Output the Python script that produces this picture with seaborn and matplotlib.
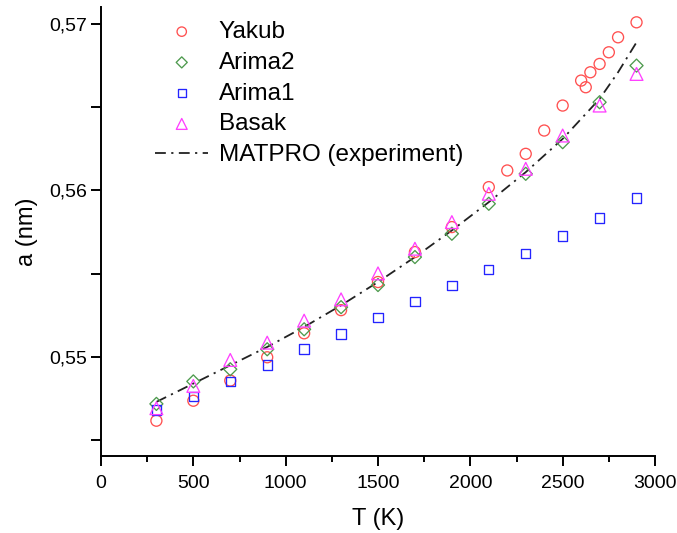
import numpy as np
import pandas as pd
import matplotlib
matplotlib.use("Agg")
import matplotlib.pyplot as plt
import matplotlib.ticker as mticker
import seaborn as sns

# ---- data ----
T_yakub = [300, 500, 700, 900, 1100, 1300, 1500, 1700, 1900, 2100, 2200, 2300, 2400, 2500,
           2600, 2625, 2650, 2700, 2750, 2800, 2900]
a_yakub = [0.54617, 0.54737, 0.54858, 0.54998, 0.55142, 0.55281, 0.5545, 0.5563, 0.5578,
           0.5602, 0.5612, 0.5622, 0.5636, 0.5651, 0.5666, 0.5662, 0.5671, 0.5676, 0.5683,
           0.5692, 0.5701]

T_arima2 = [300, 500, 700, 900, 1100, 1300, 1500, 1700, 1900, 2100, 2300, 2500, 2700, 2900]
a_arima2 = [0.54718, 0.54853, 0.54926, 0.55046, 0.55166, 0.55299, 0.55432, 0.5560, 0.5574,
            0.5592, 0.5610, 0.5629, 0.5653, 0.5675]

T_arima1 = [300, 500, 700, 900, 1100, 1300, 1500, 1700, 1900, 2100, 2300, 2500, 2700, 2900]
a_arima1 = [0.54682, 0.54762, 0.54852, 0.54952, 0.55048, 0.55138, 0.55236, 0.55332, 0.5543,
            0.55526, 0.55623, 0.55727, 0.55834, 0.55954]

T_basak = [300, 500, 700, 900, 1100, 1300, 1500, 1700, 1900, 2100, 2300, 2500, 2700, 2900]
a_basak = [0.54692, 0.54826, 0.54982, 0.55086, 0.55218, 0.55346, 0.55502, 0.5565, 0.5581,
           0.5598, 0.5613, 0.5633, 0.5651, 0.5670]

T_matpro = [300, 500, 700, 900, 1100, 1300, 1500, 1700, 1900, 2100, 2300, 2500, 2700, 2800, 2900]
a_matpro = [0.5473, 0.5484, 0.5495, 0.5506, 0.5518, 0.5531, 0.5545, 0.5560, 0.5576, 0.5593,
            0.5611, 0.5631, 0.5655, 0.5671, 0.5689]

x_ticks = [0, 500, 1000, 1500, 2000, 2500, 3000]
y_ticks = [0.55, 0.56, 0.57]
y_ticklabels = ["0,55", "0,56", "0,57"]

# ---- style ----
sns.set_style("ticks")
plt.rcParams['font.family'] = ['Liberation Sans', 'DejaVu Sans']
plt.rcParams['text.color'] = 'black'
plt.rcParams['axes.labelcolor'] = 'black'
plt.rcParams['xtick.color'] = 'black'
plt.rcParams['ytick.color'] = 'black'

fig = plt.figure(figsize=(6.77, 5.33), dpi=100)
ax = fig.add_axes([101/677, 1 - 456/533, (655 - 101)/677, (456 - 7)/533])

ew = 0.95
sns.scatterplot(x=T_yakub, y=a_yakub, ax=ax, marker='o', s=63, facecolor='none',
                edgecolor='#FF5050', linewidth=ew, label='Yakub', zorder=3)
sns.scatterplot(x=T_arima2, y=a_arima2, ax=ax, marker='D', s=44, facecolor='none',
                edgecolor='#4E9A4E', linewidth=ew, label='Arima2', zorder=3)
sns.scatterplot(x=T_arima1, y=a_arima1, ax=ax, marker='s', s=45, facecolor='none',
                edgecolor='#2424FF', linewidth=ew, label='Arima1', zorder=3)
sns.scatterplot(x=T_basak, y=a_basak, ax=ax, marker='^', s=85, facecolor='none',
                edgecolor='#FF40FF', linewidth=ew, label='Basak', zorder=3)
sns.lineplot(x=T_matpro, y=a_matpro, ax=ax, color='#222222', linewidth=1.3,
             dashes=False, label='MATPRO (experiment)', zorder=2)
ax.lines[-1].set_dashes((6, 3, 1.2, 3))

ax.set_xlim(0, 3000)
ax.set_ylim(0.54405, 0.57102)
ax.set_xticks(x_ticks)
ax.set_xticklabels([str(v) for v in x_ticks])
ax.xaxis.set_minor_locator(mticker.MultipleLocator(250))
ax.set_yticks(y_ticks)
ax.set_yticklabels(y_ticklabels)
ax.yaxis.set_minor_locator(mticker.FixedLocator([0.545, 0.555, 0.565]))

sns.despine(ax=ax)
for sp in ['left', 'bottom']:
    ax.spines[sp].set_linewidth(1.4)
    ax.spines[sp].set_color('black')
ax.tick_params(axis='both', which='major', labelsize=14, width=1.4, length=7,
               direction='out', color='black', labelcolor='black')
ax.tick_params(axis='x', which='major', pad=7)
ax.tick_params(axis='y', which='major', pad=3)
ax.tick_params(axis='x', which='minor', width=1.4, length=4, direction='out', color='black')
ax.tick_params(axis='y', which='minor', width=1.4, length=7, direction='out', color='black')

ax.set_xlabel('T (K)', fontsize=17, labelpad=11, color='black')
ax.set_ylabel('a (nm)', fontsize=17, labelpad=8, color='black')

leg = ax.legend(loc='upper left', bbox_to_anchor=(155/677, 1 - 21/533),
                bbox_transform=fig.transFigure, frameon=False, fontsize=17.5,
                markerscale=0.85, handlelength=2.2, handletextpad=0.42,
                labelspacing=0.36, borderpad=0, borderaxespad=0)
for t in leg.get_texts():
    t.set_color('black')

fig.savefig('out.png', dpi=100)
